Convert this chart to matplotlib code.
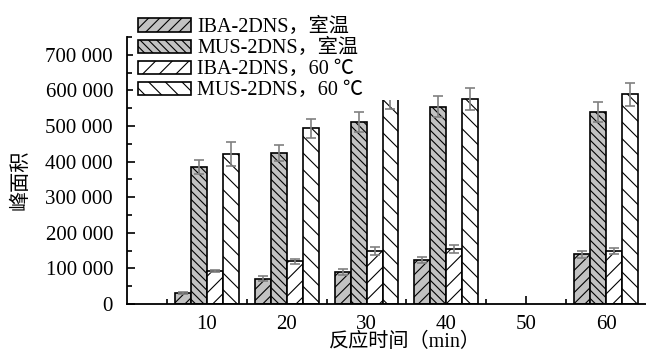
import matplotlib
matplotlib.use("Agg")
import matplotlib.pyplot as plt
import numpy as np
from matplotlib.ticker import FuncFormatter, MultipleLocator, FixedLocator
from matplotlib.patches import Rectangle
from matplotlib.font_manager import FontProperties

plt.rcParams['font.family'] = ['Liberation Serif', 'Noto Sans CJK SC']
plt.rcParams['hatch.linewidth'] = 0.8

# ---- data ----
times = [10, 20, 30, 40, 60]
xtick_vals = [10, 20, 30, 40, 50, 60]
labels = ["IBA-2DNS，室温", "MUS-2DNS，室温", "IBA-2DNS，60 ℃", "MUS-2DNS，60 ℃"]
iba_rt = [30000, 71000, 89000, 123000, 140000]
iba_rt_err = [3000, 7000, 8000, 8500, 10000]
mus_rt = [385000, 424000, 512000, 554000, 539000]
mus_rt_err = [20000, 22000, 28000, 29000, 29000]
iba_60 = [93000, 120000, 149000, 154000, 149000]
iba_60_err = [3000, 7500, 10000, 10500, 9500]
mus_60 = [422000, 494000, 578000, 575000, 589000]
mus_60_err = [33000, 27000, 30000, 31000, 32000]
xlabel = "反应时间（min）"
ylabel = "峰面积"

W, H = 646, 351
fig = plt.figure(figsize=(W / 100, H / 100), dpi=100)
ax = fig.add_axes([127 / W, 47 / H, 519 / W, 267 / H])

series = [iba_rt, mus_rt, iba_60, mus_60]
errs = [iba_rt_err, mus_rt_err, iba_60_err, mus_60_err]
faces = ['#c2c2c2', '#c2c2c2', 'white', 'white']
hatches = ['///', '\\\\\\\\', '//', '\\\\']
offsets = [-3, -1, 1, 3]
bw = 2.0
x = np.array(times, dtype=float)
handles = []
for vals, er, fc, ht, off in zip(series, errs, faces, hatches, offsets):
    b = ax.bar(x + off, vals, width=bw, color=fc, edgecolor='black',
               linewidth=1.2, hatch=ht, zorder=2)
    ax.errorbar(x + off, vals, yerr=er, fmt='none', ecolor='#808080',
                elinewidth=1.2, capsize=3.6, capthick=1.2, zorder=3)
    handles.append(b)

ax.set_xlim(0, 65)
ax.set_ylim(0, 750000)
ax.set_axisbelow(True)

for s in ['top', 'right']:
    ax.spines[s].set_visible(False)
for s in ['left', 'bottom']:
    ax.spines[s].set_linewidth(1.3)

ax.xaxis.set_major_locator(FixedLocator(xtick_vals))
ax.xaxis.set_minor_locator(FixedLocator([5, 15, 25, 35, 45, 55]))
ax.yaxis.set_major_locator(MultipleLocator(100000))
ax.yaxis.set_minor_locator(MultipleLocator(50000))
ax.tick_params(axis='both', which='major', direction='in', length=6, width=1.2, labelsize=15)
ax.tick_params(axis='both', which='minor', direction='in', length=3.5, width=1.2)
ax.tick_params(axis='y', which='major', pad=10)
ax.tick_params(axis='x', which='major', pad=8)

def yfmt(v, pos):
    if v > 700000:
        return ""
    return f"{int(v):,}".replace(",", " ")
ax.yaxis.set_major_formatter(FuncFormatter(yfmt))

fig.text(21 / W, 1 - 180 / H, ylabel, rotation=90, ha='center', va='center', fontsize=14.5)
fig.text(405 / W, 1 - 342 / H, xlabel, ha='center', va='center', fontsize=14.5)

rect = Rectangle((133 / W, 1 - 100 / H), 279 / W, 100 / H, transform=fig.transFigure,
                 facecolor='white', edgecolor='none', zorder=4, clip_on=False)
ax.add_patch(rect)

leg = ax.legend(handles, labels, loc='upper left', bbox_to_anchor=(138 / W, 1 - 18 / H),
                bbox_transform=fig.transFigure, frameon=False, borderpad=0, borderaxespad=0,
                handlelength=2.65, handleheight=0.65, handletextpad=0.3, labelspacing=0.1,
                prop=FontProperties(family=['Liberation Serif', 'Noto Sans CJK SC'], size=14.5))
leg.set_zorder(5)

fig.savefig('out.png', dpi=100)
